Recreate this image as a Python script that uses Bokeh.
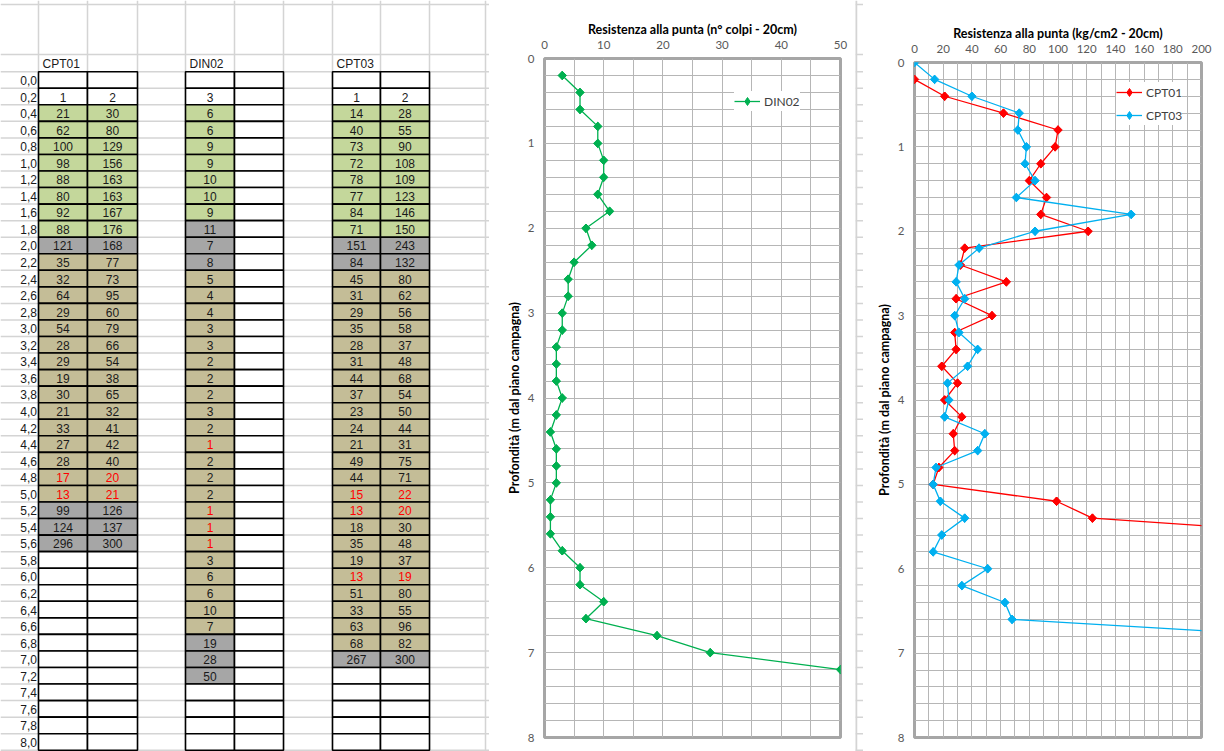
import numpy as np
from bokeh.plotting import figure
from bokeh.layouts import row
from bokeh.models import Range1d, FixedTicker, Legend, LegendItem
from bokeh.core.properties import value
from bokeh.embed import file_html
from bokeh.resources import INLINE

# ------------------------------------------------------------------ data
depth_labels = ["0,0", "0,2", "0,4", "0,6", "0,8", "1,0", "1,2", "1,4", "1,6", "1,8",
                "2,0", "2,2", "2,4", "2,6", "2,8", "3,0", "3,2", "3,4", "3,6", "3,8",
                "4,0", "4,2", "4,4", "4,6", "4,8", "5,0", "5,2", "5,4", "5,6", "5,8",
                "6,0", "6,2", "6,4", "6,6", "6,8", "7,0", "7,2", "7,4", "7,6", "7,8", "8,0"]

table_headers = ["CPT01", "DIN02", "CPT03"]

# table columns (row 0,0 .. 8,0); None = empty cell
cpt01_col1 = [None, "1", 21, 62, 100, 98, 88, 80, 92, 88, 121, 35, 32, 64, 29, 54, 28, 29, 19,
              30, 21, 33, 27, 28, 17, 13, 99, 124, 296] + [None] * 12
cpt01_col2 = [None, "2", 30, 80, 129, 156, 163, 163, 167, 176, 168, 77, 73, 95, 60, 79, 66, 54,
              38, 65, 32, 41, 42, 40, 20, 21, 126, 137, 300] + [None] * 12
din02_col1 = [None, "3", 6, 6, 9, 9, 10, 10, 9, 11, 7, 8, 5, 4, 4, 3, 3, 2, 2, 2, 3, 2, 1, 2, 2,
              2, 1, 1, 1, 3, 6, 6, 10, 7, 19, 28, 50] + [None] * 4
din02_col2 = [None] * 41
cpt03_col1 = [None, "1", 14, 40, 73, 72, 78, 77, 84, 71, 151, 84, 45, 31, 29, 35, 28, 31, 44, 37,
              23, 24, 21, 49, 44, 15, 13, 18, 35, 19, 13, 51, 33, 63, 68, 267] + [None] * 5
cpt03_col2 = [None, "2", 28, 55, 90, 108, 109, 123, 146, 150, 243, 132, 80, 62, 56, 58, 37, 48,
              68, 54, 50, 44, 31, 75, 71, 22, 20, 30, 48, 37, 19, 80, 55, 96, 82, 300] + [None] * 5

# cell fill classes: w = none, g = green, t = tan, x = grey
cpt01_fill = "ww" + "g" * 8 + "x" + "t" * 15 + "x" * 3 + "w" * 12
din02_fill = "ww" + "g" * 7 + "x" * 3 + "t" * 22 + "x" * 3 + "w" * 4
cpt03_fill = "ww" + "g" * 8 + "x" * 2 + "t" * 23 + "x" + "w" * 5

# rows whose values are written in red
cpt01_red = ["4,8", "5,0"]
din02_red = ["4,4", "5,2", "5,4", "5,6"]
cpt03_red = ["5,0", "5,2", "6,0"]

# chart series
din02_depth = [0.2, 0.4, 0.6, 0.8, 1.0, 1.2, 1.4, 1.6, 1.8, 2.0, 2.2, 2.4, 2.6, 2.8, 3.0, 3.2,
               3.4, 3.6, 3.8, 4.0, 4.2, 4.4, 4.6, 4.8, 5.0, 5.2, 5.4, 5.6, 5.8, 6.0, 6.2, 6.4,
               6.6, 6.8, 7.0, 7.2]
din02_blows = [3, 6, 6, 9, 9, 10, 10, 9, 11, 7, 8, 5, 4, 4, 3, 3, 2, 2, 2, 3, 2, 1, 2, 2, 2, 1,
               1, 1, 3, 6, 6, 10, 7, 19, 28, 50]

cpt01_depth = [0.2, 0.4, 0.6, 0.8, 1.0, 1.2, 1.4, 1.6, 1.8, 2.0, 2.2, 2.4, 2.6, 2.8, 3.0, 3.2,
               3.4, 3.6, 3.8, 4.0, 4.2, 4.4, 4.6, 4.8, 5.0, 5.2, 5.4, 5.6]
cpt01_qc = [0, 21, 62, 100, 98, 88, 80, 92, 88, 121, 35, 32, 64, 29, 54, 28, 29, 19, 30, 21, 33,
            27, 28, 17, 13, 99, 124, 296]

cpt03_depth = [0.0, 0.2, 0.4, 0.6, 0.8, 1.0, 1.2, 1.4, 1.6, 1.8, 2.0, 2.2, 2.4, 2.6, 2.8, 3.0,
               3.2, 3.4, 3.6, 3.8, 4.0, 4.2, 4.4, 4.6, 4.8, 5.0, 5.2, 5.4, 5.6, 5.8, 6.0, 6.2,
               6.4, 6.6, 6.8]
cpt03_qc = [0, 14, 40, 73, 72, 78, 77, 84, 71, 151, 84, 45, 31, 29, 35, 28, 31, 44, 37, 23, 24,
            21, 49, 44, 15, 13, 18, 35, 19, 13, 51, 33, 63, 68, 267]

# ------------------------------------------------------------------ layout / style
H = 751
ROW_TOP0 = 71.2
ROW_H = 16.55
COL_EDGES = [0, 38, 87, 137, 185, 234, 283, 332, 380, 429, 485]
SHEET_GRID = "#D4D4D4"
FILL = {"w": "white", "g": "#C4D79B", "t": "#C4BD97", "x": "#A6A6A6"}
TABLE_FONT = value("Liberation Sans")
CHART_FONT = "Lato"


def row_top(k):
    return ROW_TOP0 + ROW_H * k


row_lines = [4, 54] + [row_top(k) for k in range(len(depth_labels) + 1)]

# ------------------------------------------------------------------ spreadsheet table
tbl = figure(width=489, height=H, x_range=Range1d(0, 489), y_range=Range1d(751, 0),
             x_axis_type=None, y_axis_type=None, output_backend="svg",
             toolbar_location=None, min_border=0, title=None, frame_align=False)
tbl.outline_line_color = None
tbl.grid.visible = False

tbl.segment(x0=COL_EDGES[1:], y0=[0] * 10, x1=COL_EDGES[1:], y1=[760] * 10,
            line_color=SHEET_GRID, line_width=1.5)
tbl.segment(x0=[0] * len(row_lines), y0=row_lines, x1=[489] * len(row_lines), y1=row_lines,
            line_color=SHEET_GRID, line_width=1.5)

columns = [(1, cpt01_col1, cpt01_fill, cpt01_red),
           (2, cpt01_col2, cpt01_fill, cpt01_red),
           (4, din02_col1, din02_fill, din02_red),
           (5, din02_col2, "w" * 41, []),
           (7, cpt03_col1, cpt03_fill, cpt03_red),
           (8, cpt03_col2, cpt03_fill, cpt03_red)]

ql, qr, qt, qb, qc = [], [], [], [], []
tx, ty, tt, tcol = [], [], [], []
for ci, vals, fills, reds in columns:
    left, right = COL_EDGES[ci], COL_EDGES[ci + 1]
    for k, lab in enumerate(depth_labels):
        ql.append(left); qr.append(right)
        qt.append(row_top(k)); qb.append(row_top(k + 1))
        qc.append(FILL[fills[k]])
        v = vals[k]
        if v is not None:
            tx.append((left + right) / 2)
            ty.append(row_top(k) + ROW_H / 2 + 0.5)
            tt.append(str(v))
            tcol.append("#FF0000" if lab in reds else "#1A1A1A")

tbl.quad(left=ql, right=qr, top=qt, bottom=qb, fill_color=qc, line_color="black",
         line_width=1.6)
tbl.text(x=tx, y=ty, text=tt, text_color=tcol, text_align="center", text_baseline="middle",
         text_font=TABLE_FONT, text_font_size="12px")

# row labels
tbl.text(x=[36.5] * len(depth_labels),
         y=[row_top(k) + ROW_H / 2 + 0.5 for k in range(len(depth_labels))],
         text=depth_labels, text_color="#1A1A1A", text_align="right", text_baseline="middle",
         text_font=TABLE_FONT, text_font_size="12px")
# headers
tbl.text(x=[COL_EDGES[1] + 4, COL_EDGES[4] + 4, COL_EDGES[7] + 4], y=[63] * 3,
         text=table_headers, text_color="#1A1A1A", text_align="left", text_baseline="middle",
         text_font=TABLE_FONT, text_font_size="12px")

# ------------------------------------------------------------------ gap between charts
gap = figure(width=8, height=H, x_range=Range1d(855, 863), y_range=Range1d(751, 0),
             x_axis_type=None, y_axis_type=None, output_backend="svg",
             toolbar_location=None, min_border=0, title=None, frame_align=False)
gap.outline_line_color = None
gap.grid.visible = False
gap.segment(x0=[855.5], y0=[0], x1=[855.5], y1=[760], line_color=SHEET_GRID, line_width=2.5)
gap.segment(x0=[855] * len(row_lines), y0=row_lines, x1=[863] * len(row_lines), y1=row_lines,
            line_color=SHEET_GRID, line_width=1.5)


# ------------------------------------------------------------------ charts
def make_chart(width, b_left, b_right, b_top, xmax, major, minor, title):
    p = figure(width=width, height=H, x_range=Range1d(0, xmax), y_range=Range1d(8, 0),
               x_axis_location="above", output_backend="svg", toolbar_location=None,
               title=None, min_border_left=b_left, min_border_right=b_right,
               min_border_top=b_top, min_border_bottom=14, frame_align=False)
    p.xaxis.ticker = FixedTicker(ticks=list(np.arange(0, xmax + 1, major)),
                                 minor_ticks=list(np.arange(0, xmax + 1, minor)))
    p.yaxis.ticker = FixedTicker(ticks=list(range(9)),
                                 minor_ticks=[round(0.2 * i, 1) for i in range(41)])
    for ax in (p.xaxis[0], p.yaxis[0]):
        ax.axis_line_color = None
        ax.major_tick_line_color = None
        ax.minor_tick_line_color = None
        ax.major_tick_out = 0
        ax.major_tick_in = 0
        ax.minor_tick_out = 0
        ax.minor_tick_in = 0
        ax.major_label_text_font = CHART_FONT
        ax.major_label_text_font_size = "11.5px"
        ax.major_label_text_color = "#595959"
        ax.axis_label_text_font = CHART_FONT
        ax.axis_label_text_font_size = "12.5px"
        ax.axis_label_text_font_style = "bold"
        ax.axis_label_text_color = "#000000"
    p.xaxis.axis_label = title
    p.yaxis.axis_label = "Profondità (m dal piano campagna)"
    p.xaxis.major_label_standoff = 10
    p.xaxis.axis_label_standoff = 1
    p.yaxis.major_label_standoff = 10
    p.yaxis.axis_label_standoff = 3
    for g in (p.xgrid[0], p.ygrid[0]):
        g.grid_line_color = "#B6B6B6"
        g.grid_line_width = 1
        g.minor_grid_line_color = "#B6B6B6"
        g.minor_grid_line_width = 1
    p.outline_line_color = "#A6A6A6"
    p.outline_line_width = 3
    p.background_fill_color = "white"
    p.border_fill_color = "white"
    return p


def style_legend(leg):
    leg.background_fill_color = "white"
    leg.background_fill_alpha = 1
    leg.border_line_color = None
    leg.label_text_font = CHART_FONT
    leg.label_text_font_size = "12px"
    leg.label_text_color = "#404040"
    leg.glyph_width = 26
    leg.glyph_height = 20
    leg.label_height = 20
    leg.spacing = 3
    leg.label_standoff = 4
    leg.margin = 0


def series(p, xs, ys, color):
    """line + diamond markers; returns renderers used for the legend"""
    ln = p.line(xs, ys, line_color=color, line_width=1.3)
    dm = p.scatter(xs, ys, marker="diamond", size=8.5, fill_color=color, line_color=color)
    p.scatter(xs, ys, marker="square", angle=np.pi / 4, size=6, fill_color=color,
              line_color=color)
    return [ln, dm]


c1 = make_chart(366, 55, 15, 58, 50, 10, 5, "Resistenza alla punta (n° colpi - 20cm)")
r1 = series(c1, din02_blows, din02_depth, "#00B050")
leg1 = Legend(items=[LegendItem(label="DIN02", renderers=r1)], location=(190, 626))
style_legend(leg1)
leg1.padding = 10
c1.add_layout(leg1)

c2 = make_chart(361, 51, 23, 62, 200, 20, 10, "Resistenza alla punta (kg/cm2 - 20cm)")
r2 = series(c2, cpt01_qc, cpt01_depth, "#FF0000")
r3 = series(c2, cpt03_qc, cpt03_depth, "#00B0F0")
leg2 = Legend(items=[LegendItem(label="CPT01", renderers=r2),
                     LegendItem(label="CPT03", renderers=r3)], location=(202, 612))
style_legend(leg2)
leg2.padding = 8
c2.add_layout(leg2)

layout = row(tbl, c1, gap, c2, spacing=0)
open("out.html", "w").write(file_html(layout, INLINE))
